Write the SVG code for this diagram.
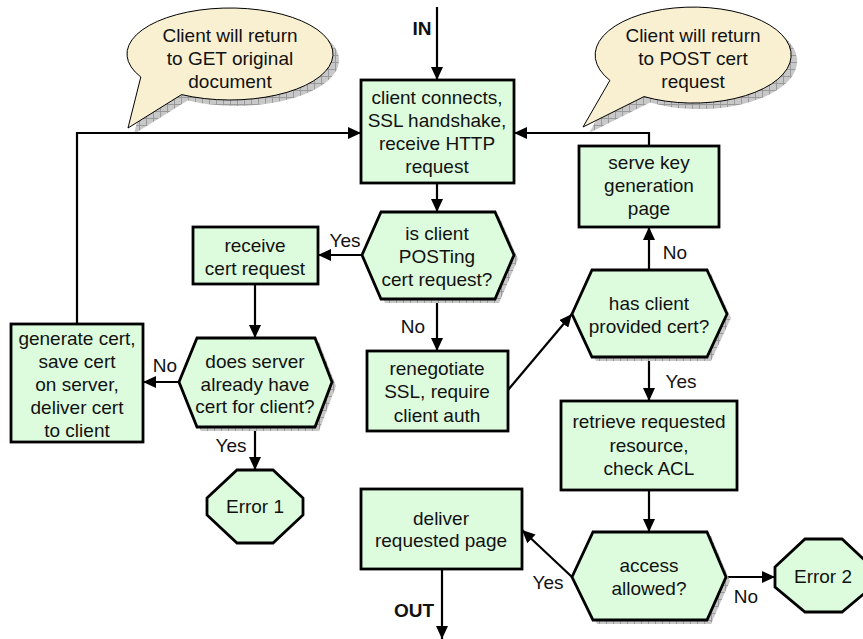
<svg xmlns="http://www.w3.org/2000/svg" width="863" height="639" viewBox="0 0 863 639">
<style>
.node{fill:#ddfcdd;stroke:#000;stroke-width:2.8}
.call{fill:#f9f0d2;stroke:#000;stroke-width:1}
.shadow{fill:url(#grid);stroke:none}
.conn{fill:none;stroke:#000;stroke-width:2.2}
text{font-family:"Liberation Sans",Arial,sans-serif;font-size:19px;fill:#111;text-anchor:middle}
.b{font-weight:bold}
</style>
<defs>
<pattern id="grid" width="7" height="7" patternUnits="userSpaceOnUse">
<rect width="7" height="7" fill="#c8c8c8"/>
<path d="M0,0.5H7M0.5,0V7" stroke="#9a9a9a" stroke-width="1"/>
</pattern>
<marker id="arr" markerUnits="userSpaceOnUse" markerWidth="14" markerHeight="12" refX="13" refY="6" orient="auto">
<path d="M0,0 L13,6 L0,12 z" fill="#000"/>
</marker>
</defs>

<g id="callout-get">
<path class="shadow" transform="translate(6,6)" d="M140.8,77 L128,128 L181.6,94.6 A103 46 0 1 0 140.8,77 Z"/>
<path class="call" d="M140.8,77 L128,128 L181.6,94.6 A103 46 0 1 0 140.8,77 Z"/>
<text x="230" y="42">Client will return</text>
<text x="230" y="65">to GET original</text>
<text x="230" y="88">document</text>
</g>

<g id="callout-post">
<path class="shadow" transform="translate(6,6)" d="M609.9,80.4 L583,127 L644,96.6 A98 48 0 1 0 609.9,80.4 Z"/>
<path class="call" d="M609.9,80.4 L583,127 L644,96.6 A98 48 0 1 0 609.9,80.4 Z"/>
<text x="693" y="42">Client will return</text>
<text x="693" y="65">to POST cert</text>
<text x="693" y="88">request</text>
</g>

<g id="connectors">
<line class="conn" x1="437" y1="7" x2="437" y2="80" marker-end="url(#arr)"/>
<line class="conn" x1="437" y1="183" x2="437" y2="212" marker-end="url(#arr)"/>
<line class="conn" x1="362" y1="255" x2="318" y2="255" marker-end="url(#arr)"/>
<line class="conn" x1="255" y1="284" x2="255" y2="338" marker-end="url(#arr)"/>
<line class="conn" x1="179" y1="382" x2="143" y2="382" marker-end="url(#arr)"/>
<line class="conn" x1="255" y1="427" x2="255" y2="470" marker-end="url(#arr)"/>
<polyline class="conn" points="77,324 77,133 361,133" marker-end="url(#arr)"/>
<line class="conn" x1="437" y1="299" x2="437" y2="351" marker-end="url(#arr)"/>
<line class="conn" x1="508" y1="390" x2="572" y2="314" marker-end="url(#arr)"/>
<line class="conn" x1="649" y1="270" x2="649" y2="227" marker-end="url(#arr)"/>
<polyline class="conn" points="649,146 649,133 514,133" marker-end="url(#arr)"/>
<line class="conn" x1="649" y1="357" x2="649" y2="401" marker-end="url(#arr)"/>
<line class="conn" x1="649" y1="490" x2="649" y2="532" marker-end="url(#arr)"/>
<line class="conn" x1="726" y1="577" x2="775" y2="577" marker-end="url(#arr)"/>
<line class="conn" x1="572" y1="577" x2="522" y2="530" marker-end="url(#arr)"/>
<line class="conn" x1="442" y1="569" x2="442" y2="639" marker-end="url(#arr)"/>
<text class="b" x="422" y="35">IN</text>
<text class="b" x="414" y="617">OUT</text>
<text x="345" y="247">Yes</text>
<text x="413" y="333">No</text>
<text x="165" y="372">No</text>
<text x="231" y="452">Yes</text>
<text x="675" y="259">No</text>
<text x="681" y="388">Yes</text>
<text x="746" y="603">No</text>
<text x="548" y="589">Yes</text>
</g>

<g id="connect">
<rect class="node" x="361" y="80" width="153" height="103"/>
<text x="437" y="104">client connects,</text>
<text x="437" y="127">SSL handshake,</text>
<text x="437" y="150">receive HTTP</text>
<text x="437" y="173">request</text>
</g>

<g id="is-posting">
<polygon class="shadow" transform="translate(4,4)" points="362,255 381,212 495,212 514,255 495,299 381,299"/>
<polygon class="node" points="362,255 381,212 495,212 514,255 495,299 381,299"/>
<text x="437" y="240">is client</text>
<text x="437" y="263">POSTing</text>
<text x="437" y="286">cert request?</text>
</g>

<g id="receive">
<rect class="node" x="193" y="227" width="125" height="57"/>
<text x="255" y="252">receive</text>
<text x="255" y="275">cert request</text>
</g>

<g id="has-cert">
<polygon class="shadow" transform="translate(4,4)" points="179,382 197,338 315,338 332,382 315,427 197,427"/>
<polygon class="node" points="179,382 197,338 315,338 332,382 315,427 197,427"/>
<text x="255" y="368">does server</text>
<text x="255" y="391">already have</text>
<text x="255" y="413">cert for client?</text>
</g>

<g id="generate">
<rect class="node" x="11" y="324" width="132" height="118"/>
<text x="77" y="345">generate cert,</text>
<text x="77" y="368">save cert</text>
<text x="77" y="391">on server,</text>
<text x="77" y="414">deliver cert</text>
<text x="77" y="437">to client</text>
</g>

<g id="error1">
<polygon class="node" points="207,498 237,470 273,470 303,498 303,515 273,543 237,543 207,515"/>
<text x="255" y="513">Error 1</text>
</g>

<g id="renegotiate">
<rect class="node" x="367" y="351" width="141" height="80"/>
<text x="437" y="375">renegotiate</text>
<text x="437" y="398">SSL, require</text>
<text x="437" y="422">client auth</text>
</g>

<g id="provided">
<polygon class="shadow" transform="translate(4,4)" points="572,314 592,270 707,270 727,314 707,357 592,357"/>
<polygon class="node" points="572,314 592,270 707,270 727,314 707,357 592,357"/>
<text x="649" y="310">has client</text>
<text x="649" y="333">provided cert?</text>
</g>

<g id="keygen">
<rect class="node" x="579" y="146" width="140" height="81"/>
<text x="649" y="169">serve key</text>
<text x="649" y="192">generation</text>
<text x="649" y="215">page</text>
</g>

<g id="retrieve">
<rect class="node" x="561" y="401" width="176" height="89"/>
<text x="649" y="428">retrieve requested</text>
<text x="649" y="452">resource,</text>
<text x="649" y="475">check ACL</text>
</g>

<g id="access">
<polygon class="shadow" transform="translate(4,4)" points="572,577 593,532 707,532 726,577 707,620 593,620"/>
<polygon class="node" points="572,577 593,532 707,532 726,577 707,620 593,620"/>
<text x="649" y="572">access</text>
<text x="649" y="595">allowed?</text>
</g>

<g id="error2">
<polygon class="node" points="775,567 805,539 842,539 872,567 872,587 842,612 805,612 775,587"/>
<text x="823" y="583">Error 2</text>
</g>

<g id="deliver">
<rect class="node" x="361" y="489" width="161" height="80"/>
<text x="441" y="525">deliver</text>
<text x="441" y="547">requested page</text>
</g>
</svg>
